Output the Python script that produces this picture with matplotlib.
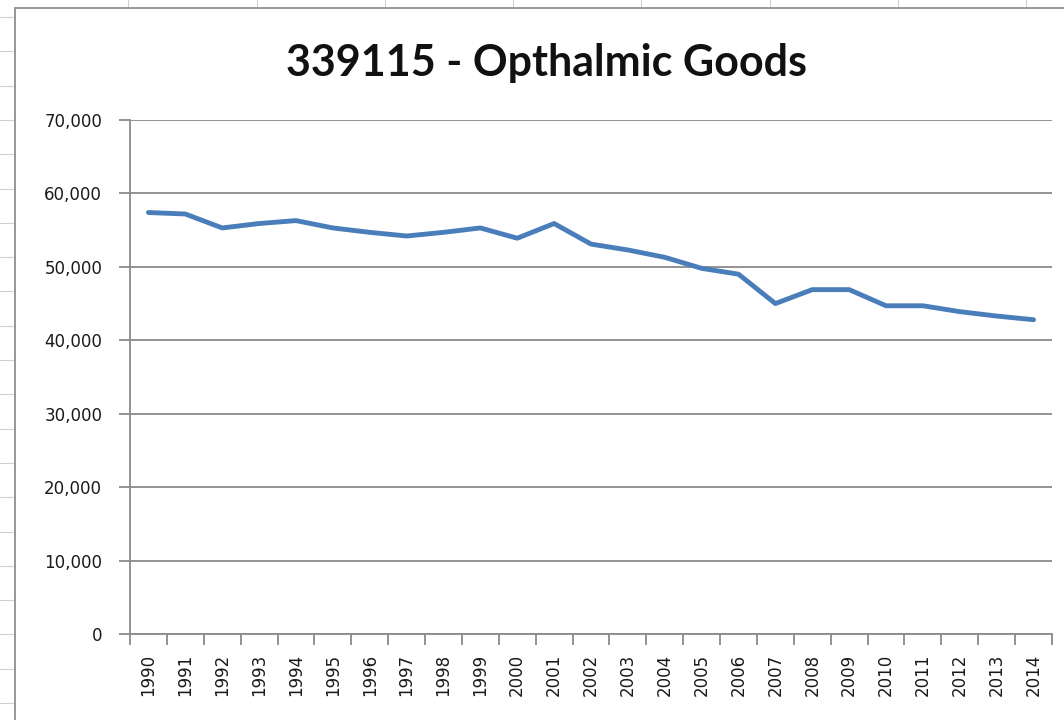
import numpy as np
import matplotlib.pyplot as plt
from matplotlib.lines import Line2D
from matplotlib.patches import Rectangle
from matplotlib.ticker import FuncFormatter, MultipleLocator

# Daten
years = [str(y) for y in range(1990, 2015)]
employment = [57400, 57200, 55300, 55900, 56300, 55300, 54700, 54200, 54700, 55300,
              53900, 55900, 53100, 52300, 51300, 49800, 49000, 45000, 46900, 46900,
              44700, 44700, 43900, 43300, 42800]
title = "339115 - Opthalmic Goods"

GRID = "#8a8a8a"
LINE = "#4a7ebb"

fig = plt.figure(figsize=(10.64, 7.2), dpi=100)
W, H = 1064, 720

# Tabellenraster hinter dem Diagramm
for x in [128, 257, 385, 513, 641, 770, 898, 1026]:
    fig.add_artist(Line2D([x / W, x / W], [1, 1 - 8 / H], color="#d0d0d0", lw=0.8, zorder=-3))
for y in np.arange(17, 720, 34.3):
    fig.add_artist(Line2D([0, 15 / W], [1 - y / H, 1 - y / H], color="#d0d0d0", lw=0.8, zorder=-3))

# Diagrammrahmen
fig.add_artist(Rectangle((15 / W, -0.01), 1.1, 1 - 8 / H + 0.01, transform=fig.transFigure,
                         facecolor="white", edgecolor="#868686", lw=1.2, zorder=-2))

ax = fig.add_axes([130 / W, 1 - 634 / H, (1052 - 130) / W, (634 - 120) / H])
ax.set_facecolor("none")
x = np.arange(len(years))
ax.plot(x, employment, color=LINE, lw=3.5, solid_joinstyle="round", solid_capstyle="round", zorder=3)

ax.set_xlim(-0.5, len(years) - 0.5)
ax.set_ylim(0, 70000)
ax.yaxis.set_major_locator(MultipleLocator(10000))
ax.yaxis.set_major_formatter(FuncFormatter(lambda v, p: f"{int(v):,}"))
ax.grid(axis="y", color=GRID, lw=1.3)
ax.set_axisbelow(True)

ax.set_xticks(x)
ax.set_xticklabels(years, rotation=90, fontsize=12, color="#1a1a1a")
ax.set_xticks(np.arange(-0.5, len(years)), minor=True)
ax.tick_params(axis="x", which="major", length=0, pad=14)
ax.tick_params(axis="x", which="minor", length=8, color=GRID, width=1.3)
ax.tick_params(axis="y", length=8, color=GRID, width=1.3, labelsize=12, labelcolor="#1a1a1a", pad=12)

for s in ["top", "right"]:
    ax.spines[s].set_visible(False)
for s in ["left", "bottom"]:
    ax.spines[s].set_color(GRID)
    ax.spines[s].set_linewidth(1.3)

fig.text(547 / W, 1 - 63 / H, title, ha="center", va="center",
         fontsize=31, fontweight="bold", family="Lato", color="#111111")

fig.savefig("out.png", dpi=100)
